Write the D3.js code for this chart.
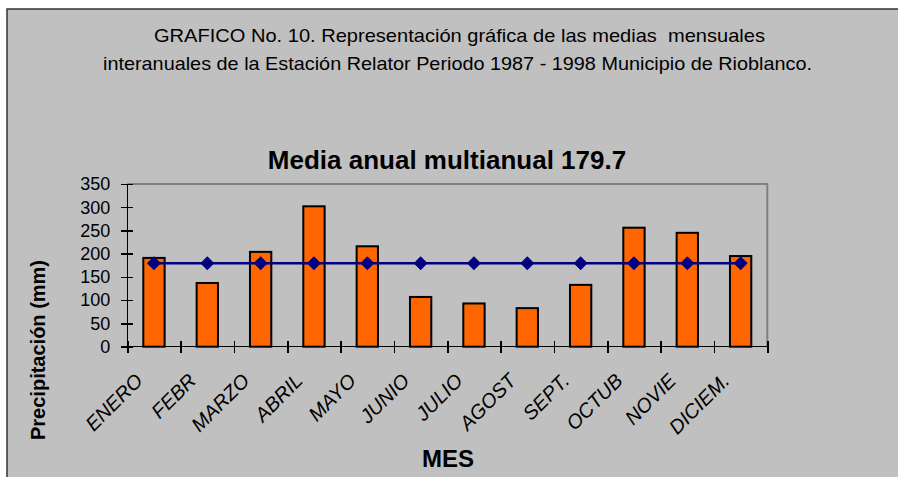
<!DOCTYPE html>
<html lang="es">
<head>
	<meta charset="utf-8">
	<title>GRAFICO No. 10</title>
	<style type="text/css">
		body { margin: 0; background: #fff; }
		svg { display: block; font-family: Arial, "Liberation Sans", sans-serif; }
		.axis path, .axis line { stroke: #000; stroke-width: 1.5; shape-rendering: crispEdges; }
		.axis text { font-size: 18px; fill: #000; }
	</style>
</head>
<body>
	<div id="vis"></div>
	<script src="https://cdn.jsdelivr.net/npm/d3@7"></script>
	<script type="text/javascript">

		var w = 898;
		var h = 477;

		// datos
		var meses = ["ENERO", "FEBR", "MARZO", "ABRIL", "MAYO", "JUNIO",
					 "JULIO", "AGOST", "SEPT.", "OCTUB", "NOVIE", "DICIEM."];
		var precip = [191, 137, 204, 302, 216, 107, 93, 83, 133, 256, 245, 195];
		var mediaAnual = [179.7, 179.7, 179.7, 179.7, 179.7, 179.7,
						  179.7, 179.7, 179.7, 179.7, 179.7, 179.7];
		var yTicks = [0, 50, 100, 150, 200, 250, 300, 350];

		var plot = { left: 127.3, right: 767.3, top: 184, bottom: 346.7 };

		var xScale = d3.scaleBand()
						.domain(meses)
						.range([plot.left, plot.right])
						.padding(0);

		var xEdges = d3.scaleLinear()
						.domain([0, meses.length])
						.range([plot.left, plot.right]);

		var yScale = d3.scaleLinear()
						.domain([0, 350])
						.range([plot.bottom, plot.top]);

		var svg = d3.select("#vis")
					.append("svg")
					.attr("width", w)
					.attr("height", h);

		//Fondo del grafico
		svg.append("rect")
			.attr("x", 7)
			.attr("y", 9)
			.attr("width", w)
			.attr("height", h)
			.attr("fill", "#c0c0c0")
			.attr("stroke", "#333")
			.attr("stroke-width", 1.5);

		//Titulo general
		var titulo = [
			{ t: "GRAFICO No. 10. Representación gráfica de las medias  mensuales", x: 154, y: 42, len: 611 },
			{ t: "interanuales de la Estación Relator Periodo 1987 - 1998 Municipio de Rioblanco.", x: 103, y: 70, len: 709 }
		];
		svg.selectAll("text.titulo")
			.data(titulo)
			.enter()
			.append("text")
			.attr("class", "titulo")
			.attr("x", function(d) { return d.x; })
			.attr("y", function(d) { return d.y; })
			.attr("textLength", function(d) { return d.len; })
			.attr("lengthAdjust", "spacingAndGlyphs")
			.attr("font-size", "19px")
			.attr("fill", "#000")
			.style("white-space", "pre")
			.text(function(d) { return d.t; });

		//Titulo del grafico
		svg.append("text")
			.attr("x", 447)
			.attr("y", 169)
			.attr("text-anchor", "middle")
			.attr("font-size", "26px")
			.attr("font-weight", "bold")
			.text("Media anual multianual 179.7");

		//Borde del area de trazado
		svg.append("path")
			.attr("d", "M" + plot.left + "," + plot.top + "H" + plot.right + "V" + plot.bottom)
			.attr("fill", "none")
			.attr("stroke", "#808080")
			.attr("stroke-width", 2);

		//Barras
		var barW = xScale.bandwidth() * 0.4;
		svg.selectAll("rect.barra")
			.data(precip)
			.enter()
			.append("rect")
			.attr("class", "barra")
			.attr("x", function(d, i) { return xScale(meses[i]) + (xScale.bandwidth() - barW) / 2; })
			.attr("y", function(d) { return yScale(d); })
			.attr("width", barW)
			.attr("height", function(d) { return yScale(0) - yScale(d); })
			.attr("fill", "#ff6600")
			.attr("stroke", "#000")
			.attr("stroke-width", 2);

		//Eje X
		var xAxis = d3.axisBottom(xEdges)
						.tickValues(d3.range(meses.length + 1))
						.tickFormat("")
						.tickSize(6);
		var gx = svg.append("g")
			.attr("class", "axis")
			.attr("transform", "translate(0," + plot.bottom + ")")
			.call(xAxis);
		gx.select(".domain").attr("d", "M" + plot.left + ",0H" + plot.right);
		gx.selectAll(".tick line").attr("y1", -6);

		//Eje Y
		var yAxis = d3.axisLeft(yScale)
						.tickValues(yTicks)
						.tickSize(6)
						.tickPadding(11);
		var gy = svg.append("g")
			.attr("class", "axis")
			.attr("transform", "translate(" + plot.left + ",0)")
			.call(yAxis);
		gy.select(".domain").attr("d", "M0," + plot.bottom + "V" + plot.top);
		gy.selectAll(".tick line").attr("x1", 6);

		//Linea de la media
		var line = d3.line()
					.x(function(d, i) { return xScale(meses[i]) + xScale.bandwidth() / 2; })
					.y(function(d) { return yScale(d); });
		svg.append("path")
			.datum(mediaAnual)
			.attr("d", line)
			.attr("fill", "none")
			.attr("stroke", "#000080")
			.attr("stroke-width", 2.5);

		svg.selectAll("path.rombo")
			.data(mediaAnual)
			.enter()
			.append("path")
			.attr("class", "rombo")
			.attr("d", "M0,-7L7,0L0,7L-7,0Z")
			.attr("transform", function(d, i) {
				return "translate(" + (xScale(meses[i]) + xScale.bandwidth() / 2) + "," + yScale(d) + ")";
			})
			.attr("fill", "#000080");

		//Etiquetas de meses
		svg.selectAll("text.mes")
			.data(meses)
			.enter()
			.append("text")
			.attr("class", "mes")
			.attr("text-anchor", "end")
			.attr("font-size", "20px")
			.attr("font-style", "italic")
			.attr("transform", function(d) {
				var cx = xScale(d) + xScale.bandwidth() / 2 - 10;
				return "translate(" + cx + ",382) rotate(-45)";
			})
			.text(function(d) { return d; });

		//Titulos de ejes
		svg.append("text")
			.attr("x", 448)
			.attr("y", 467)
			.attr("text-anchor", "middle")
			.attr("font-size", "24px")
			.attr("font-weight", "bold")
			.text("MES");

		svg.append("text")
			.attr("transform", "translate(45,350) rotate(-90)")
			.attr("text-anchor", "middle")
			.attr("font-size", "20px")
			.attr("font-weight", "bold")
			.text("Precipitación (mm)");

	</script>
</body>
</html>
